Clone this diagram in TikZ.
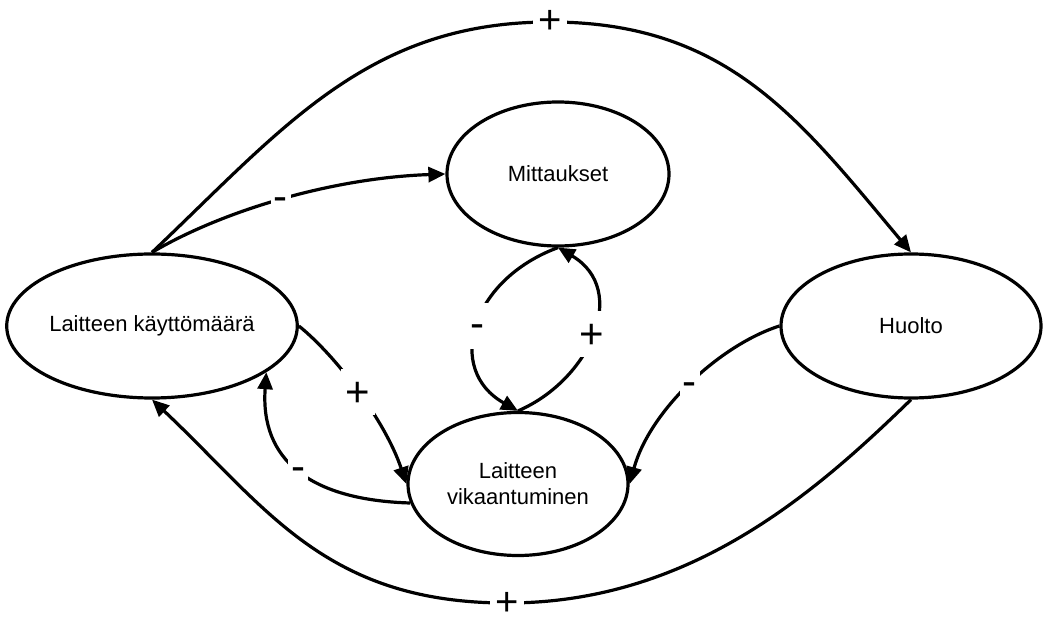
\documentclass[tikz,border=0pt]{standalone}
\usepackage{fontspec}
\setmainfont{Liberation Sans}
\usetikzlibrary{arrows.meta,shapes.geometric}
\begin{document}
\begin{tikzpicture}[x=1pt,y=-1pt,line width=3.2pt,
  state/.style={draw,ellipse,inner sep=0pt,align=center,font=\fontsize{22}{26}\selectfont},
  link/.style={-{Triangle[length=17pt,width=15pt]}},
  plus/.style={fill=white,inner xsep=5pt,inner ysep=2pt,font=\fontsize{42}{42}\selectfont,text height=35.5pt,text depth=6.5pt},
  hplus/.style={fill=white,inner xsep=5pt,inner ysep=0pt,font=\fontsize{40}{40}\selectfont,text height=24pt,text depth=-4pt},
  minus/.style={fill=white,inner xsep=3pt,inner ysep=2pt,font=\fontsize{42}{42}\selectfont,text height=32.3pt,text depth=9.7pt}]
\useasboundingbox (0,0) rectangle (1044,617);
\node[state,minimum width=290pt,minimum height=144pt] (K) at (152,326) {Laitteen käyttömäärä};
\node[state,minimum width=222pt,minimum height=144pt] (M) at (558,174) {Mittaukset};
\node[state,minimum width=260pt,minimum height=144pt] (H) at (911,326) {Huolto};
\node[state,minimum width=220pt,minimum height=143pt] (V) at (518,484) {Laitteen\\vikaantuminen};
% top
\draw[link] (K.north) .. controls (283,128) and (368,22) .. (550,22) node[hplus]{+}
  .. controls (728,22) and (800,120) .. (H.north);
% bottom
\draw[link] (H.south) .. controls (815,493) and (690,603) .. (507,603) node[hplus]{+}
  .. controls (325,603) and (266,507) .. (K.south);
% K -> M
\draw[link] (K.north) .. controls (220,212) and (330,178) .. (M.west) node[minus,pos=0.5]{-};
% M -> V
\draw[link] (M.south) .. controls (470,280) and (445,370) .. (V.north) node[minus,pos=0.5]{-};
% V -> M
\draw[link] (V.north) .. controls (590,380) and (630,290) .. (M.south) node[plus,pos=0.5]{+};
% K -> V
\draw[link] (K.east) .. controls (335,355) and (385,420) .. (V.west) node[plus,pos=0.5]{+};
% V -> K
\draw[link] (V.190) .. controls (310,500) and (260,460) .. (K.338) node[minus,pos=0.5]{-};
% H -> V
\draw[link] (H.west) .. controls (720,345) and (650,410) .. (V.east) node[minus,pos=0.5]{-};
\end{tikzpicture}
\end{document}
